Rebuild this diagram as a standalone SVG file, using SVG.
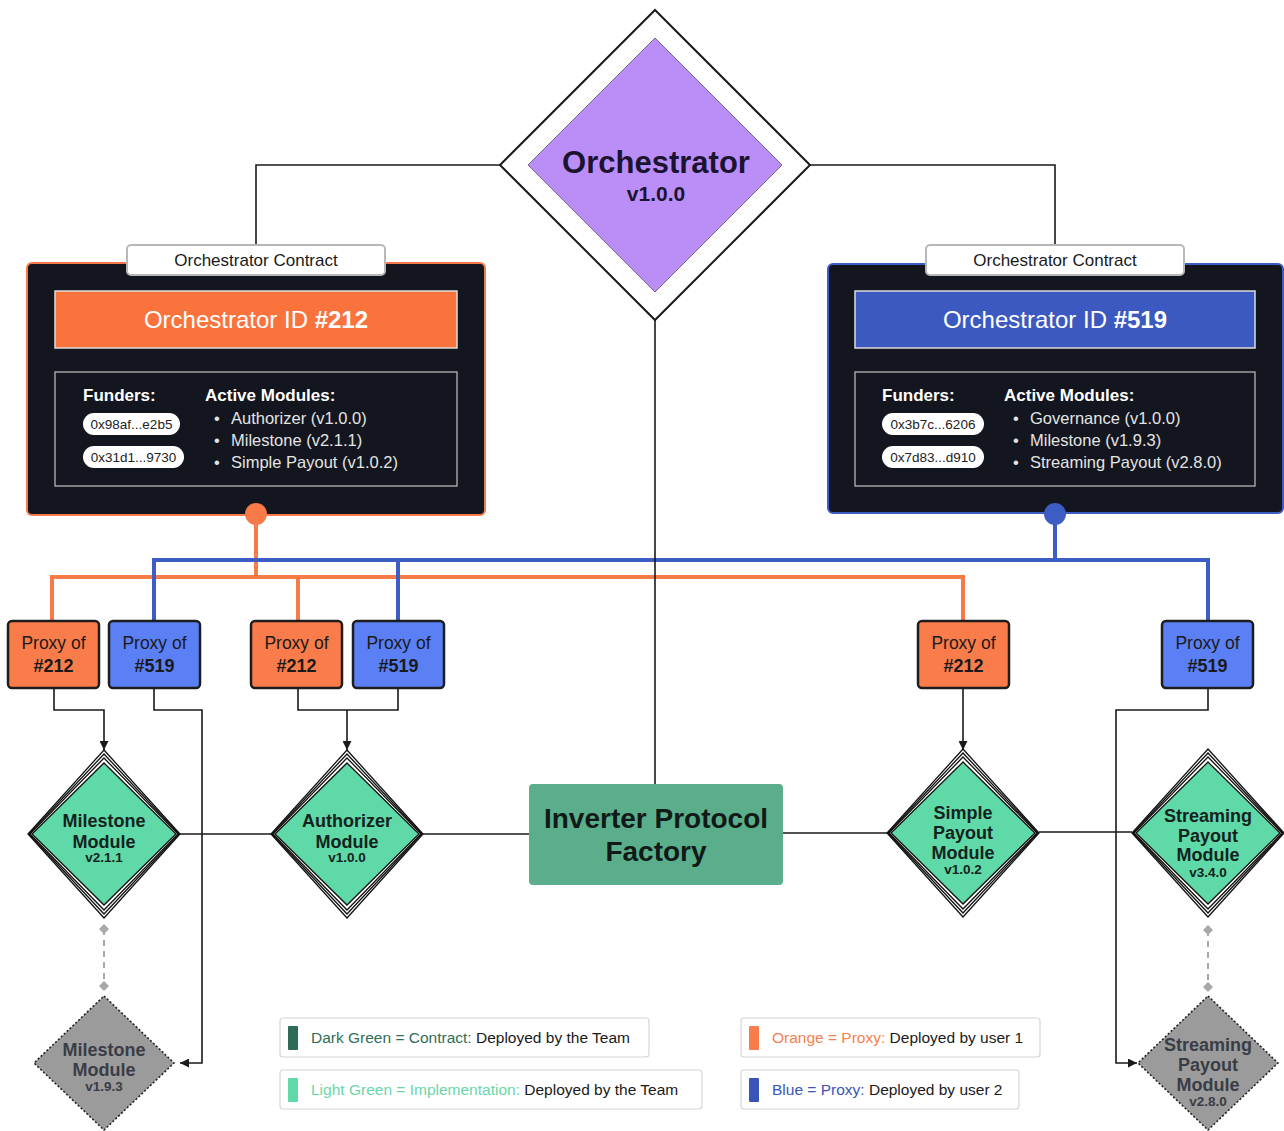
<svg xmlns="http://www.w3.org/2000/svg" xmlns:xlink="http://www.w3.org/1999/xlink" width="1284" height="1131" viewBox="0 0 1284 1131">
<style>
.t{font-family:"Liberation Sans",Arial,sans-serif}
.conn{fill:none;stroke:#1a1a1a;stroke-width:1.6}
.or{fill:none;stroke:#f87a48;stroke-width:4}
.bl{fill:none;stroke:#3d5cc4;stroke-width:4}
.proxyO{fill:#f97c4a;stroke:#1d1d1d;stroke-width:2.5}
.proxyB{fill:#5b7ff5;stroke:#1d1d1d;stroke-width:2.5}
.ptxt{font-family:"Liberation Sans",Arial,sans-serif;font-size:17.5px;fill:#1a1a1a;text-anchor:middle}
.pnum{font-weight:bold;font-size:18px}
.mtxt{font-family:"Liberation Sans",Arial,sans-serif;font-weight:bold;font-size:18px;fill:#14231d;text-anchor:middle}
.gtxt{font-family:"Liberation Sans",Arial,sans-serif;font-weight:bold;font-size:18px;fill:#3a3d45;text-anchor:middle}
.mtxt.mver,.gtxt.mver{font-size:13.5px}
.card{fill:#13161e}
.lbl{fill:#fff;stroke:#b8b8b8;stroke-width:2}
.inner{fill:none;stroke:#b5b5b5;stroke-width:1.3}
.wt{font-family:"Liberation Sans",Arial,sans-serif;fill:#fff}
.li{font-family:"Liberation Sans",Arial,sans-serif;font-size:16.5px;fill:#e4e4e4}
.pill{fill:#fff}
.pt{font-family:"Liberation Sans",Arial,sans-serif;font-size:13.5px;fill:#222;text-anchor:middle}
.leg{fill:#fff;stroke:#d6d6d6;stroke-width:1.2}
.lt{font-family:"Liberation Sans",Arial,sans-serif;font-size:15.5px;fill:#1a1a1a}
.dash{fill:none;stroke:#a8a8a8;stroke-width:2;stroke-dasharray:6 5}
</style>
<defs>
<marker id="arr" viewBox="0 0 10 10" refX="10" refY="5" markerWidth="9" markerHeight="9" markerUnits="userSpaceOnUse" orient="auto">
<path d="M0,0 L10,5 L0,10 Z" fill="#1a1a1a"/>
</marker>
<g id="stack">
<path d="M0,-84 L76,0 L0,84 L-76,0 Z" fill="#fff" stroke="#111" stroke-width="1.3"/>
<path d="M0,-80 L75,0 L0,80 L-75,0 Z" fill="#fff" stroke="#111" stroke-width="1.3"/>
<path d="M0,-76 L74,0 L0,76 L-74,0 Z" fill="#fff" stroke="#111" stroke-width="1.3"/>
<path d="M0,-71 L72,0 L0,71 L-72,0 Z" fill="#5fd9a7" stroke="#111" stroke-width="1.3"/>
</g>
<g id="gray">
<path d="M0,-67 L70,0 L0,67 L-70,0 Z" fill="#9b9b9b" stroke="#222" stroke-width="1.6" stroke-dasharray="2 2"/>
</g>
<path id="mini" d="M0,-5 L5,0 L0,5 L-5,0 Z" fill="#a8a8a8"/>
</defs>
<rect width="1284" height="1131" fill="#fff"/>

<g id="connectors">
<path class="or" d="M256,514 V577 M52,621 V577 H963 V621 M298,577 V621"/>
<path class="bl" d="M1055,514 V560 M154,621 V560 H1208 V621 M398,560 V621"/>
<path class="conn" d="M500,165 H256 V245"/>
<path class="conn" d="M810,165 H1055 V245"/>
<path class="conn" d="M655,320 V784"/>
<path class="conn" d="M54,688 V710 H104 V750" marker-end="url(#arr)"/>
<path class="conn" d="M154,688 V710 H202 V1063 H180" marker-end="url(#arr)"/>
<path class="conn" d="M298,688 V710 H398 V688 M347,710 V750" marker-end="url(#arr)"/>
<path class="conn" d="M963,688 V750" marker-end="url(#arr)"/>
<path class="conn" d="M1208,688 V710 H1116 V1063 H1137" marker-end="url(#arr)"/>
<path class="conn" d="M180,834 H271 M423,834 H529 M783,833 H887 M1039,832 H1132"/>
<path class="dash" d="M104,929 V986 M1208,930 V987"/>
<use xlink:href="#mini" x="104" y="929"/>
<use xlink:href="#mini" x="104" y="986"/>
<use xlink:href="#mini" x="1208" y="930"/>
<use xlink:href="#mini" x="1208" y="987"/>
</g>

<g id="orchestrator">
<path d="M655,10 L810,165 L655,320 L500,165 Z" fill="#fff" stroke="#1a1a1a" stroke-width="2"/>
<path d="M655,38 L782,165 L655,292 L528,165 Z" fill="#bb8ef7" stroke="#5a4a7a" stroke-width="0.8"/>
<text class="t" x="656" y="173" font-size="31" font-weight="bold" fill="#1b1430" text-anchor="middle">Orchestrator</text>
<text class="t" x="656" y="201" font-size="21" font-weight="bold" fill="#1b1430" text-anchor="middle">v1.0.0</text>
</g>

<g id="orch212">
<rect class="card" x="27" y="263" width="458" height="252" rx="5" stroke="#f87a48" stroke-width="2"/>
<rect class="lbl" x="127" y="245" width="258" height="30" rx="4"/>
<text class="t" x="256" y="266" font-size="17" fill="#1a1a1a" text-anchor="middle">Orchestrator Contract</text>
<rect x="55" y="291" width="402" height="57" fill="#fa733c" stroke="#dcdcdc" stroke-width="1.5"/>
<text class="wt" x="256" y="328" font-size="24" text-anchor="middle">Orchestrator ID <tspan font-weight="bold">#212</tspan></text>
<rect class="inner" x="55" y="372" width="402" height="114"/>
<text class="wt" x="83" y="401" font-size="17" font-weight="bold">Funders:</text>
<text class="wt" x="205" y="401" font-size="17" font-weight="bold">Active Modules:</text>
<rect class="pill" x="83" y="413" width="97" height="22" rx="11"/>
<text class="pt" x="131.5" y="429">0x98af...e2b5</text>
<rect class="pill" x="83" y="446" width="101" height="22" rx="11"/>
<text class="pt" x="133.5" y="462">0x31d1...9730</text>
<text class="li" x="214" y="424">•</text><text class="li" x="231" y="424">Authorizer (v1.0.0)</text>
<text class="li" x="214" y="446">•</text><text class="li" x="231" y="446">Milestone (v2.1.1)</text>
<text class="li" x="214" y="468">•</text><text class="li" x="231" y="468">Simple Payout (v1.0.2)</text>
<circle cx="256" cy="514" r="11" fill="#f87a48"/>
</g>

<g id="orch519">
<rect class="card" x="828" y="264" width="455" height="249" rx="5" stroke="#3d5cc4" stroke-width="2"/>
<rect class="lbl" x="926" y="245" width="258" height="30" rx="4"/>
<text class="t" x="1055" y="266" font-size="17" fill="#1a1a1a" text-anchor="middle">Orchestrator Contract</text>
<rect x="855" y="291" width="400" height="57" fill="#3c59c1" stroke="#dcdcdc" stroke-width="1.5"/>
<text class="wt" x="1055" y="328" font-size="24" text-anchor="middle">Orchestrator ID <tspan font-weight="bold">#519</tspan></text>
<rect class="inner" x="855" y="372" width="400" height="114"/>
<text class="wt" x="882" y="401" font-size="17" font-weight="bold">Funders:</text>
<text class="wt" x="1004" y="401" font-size="17" font-weight="bold">Active Modules:</text>
<rect class="pill" x="882" y="413" width="102" height="22" rx="11"/>
<text class="pt" x="933" y="429">0x3b7c...6206</text>
<rect class="pill" x="882" y="446" width="102" height="22" rx="11"/>
<text class="pt" x="933" y="462">0x7d83...d910</text>
<text class="li" x="1013" y="424">•</text><text class="li" x="1030" y="424">Governance (v1.0.0)</text>
<text class="li" x="1013" y="446">•</text><text class="li" x="1030" y="446">Milestone (v1.9.3)</text>
<text class="li" x="1013" y="468">•</text><text class="li" x="1030" y="468">Streaming Payout (v2.8.0)</text>
<circle cx="1055" cy="514" r="11" fill="#3d5cc4"/>
</g>

<g id="proxy1"><rect class="proxyO" x="8" y="621" width="91" height="67" rx="4"/><text class="ptxt" x="53.5" y="649">Proxy of</text><text class="ptxt pnum" x="53.5" y="672">#212</text></g>
<g id="proxy2"><rect class="proxyB" x="109" y="621" width="91" height="67" rx="4"/><text class="ptxt" x="154.5" y="649">Proxy of</text><text class="ptxt pnum" x="154.5" y="672">#519</text></g>
<g id="proxy3"><rect class="proxyO" x="251" y="621" width="91" height="67" rx="4"/><text class="ptxt" x="296.5" y="649">Proxy of</text><text class="ptxt pnum" x="296.5" y="672">#212</text></g>
<g id="proxy4"><rect class="proxyB" x="353" y="621" width="91" height="67" rx="4"/><text class="ptxt" x="398.5" y="649">Proxy of</text><text class="ptxt pnum" x="398.5" y="672">#519</text></g>
<g id="proxy5"><rect class="proxyO" x="918" y="621" width="91" height="67" rx="4"/><text class="ptxt" x="963.5" y="649">Proxy of</text><text class="ptxt pnum" x="963.5" y="672">#212</text></g>
<g id="proxy6"><rect class="proxyB" x="1162" y="621" width="91" height="67" rx="4"/><text class="ptxt" x="1207.5" y="649">Proxy of</text><text class="ptxt pnum" x="1207.5" y="672">#519</text></g>

<g id="milestone">
<use xlink:href="#stack" x="104" y="834"/>
<text class="mtxt" x="104" y="827">Milestone</text>
<text class="mtxt" x="104" y="848">Module</text>
<text class="mtxt mver" x="104" y="862">v2.1.1</text>
</g>
<g id="authorizer">
<use xlink:href="#stack" x="347" y="834"/>
<text class="mtxt" x="347" y="827">Authorizer</text>
<text class="mtxt" x="347" y="848">Module</text>
<text class="mtxt mver" x="347" y="862">v1.0.0</text>
</g>
<g id="simplepayout">
<use xlink:href="#stack" x="963" y="833"/>
<text class="mtxt" x="963" y="819">Simple</text>
<text class="mtxt" x="963" y="839">Payout</text>
<text class="mtxt" x="963" y="859">Module</text>
<text class="mtxt mver" x="963" y="874">v1.0.2</text>
</g>
<g id="streaming">
<use xlink:href="#stack" x="1208" y="833"/>
<text class="mtxt" x="1208" y="822">Streaming</text>
<text class="mtxt" x="1208" y="842">Payout</text>
<text class="mtxt" x="1208" y="861">Module</text>
<text class="mtxt mver" x="1208" y="877">v3.4.0</text>
</g>

<g id="factory">
<rect x="529" y="784" width="254" height="101" rx="4" fill="#5aae8c"/>
<text class="t" x="656" y="828" font-size="28" font-weight="bold" fill="#111a16" text-anchor="middle">Inverter Protocol</text>
<text class="t" x="656" y="861" font-size="28" font-weight="bold" fill="#111a16" text-anchor="middle">Factory</text>
</g>

<g id="milestoneOld">
<use xlink:href="#gray" x="104" y="1063"/>
<text class="gtxt" x="104" y="1056">Milestone</text>
<text class="gtxt" x="104" y="1076">Module</text>
<text class="gtxt mver" x="104" y="1091">v1.9.3</text>
</g>
<g id="streamingOld">
<use xlink:href="#gray" x="1208" y="1063"/>
<text class="gtxt" x="1208" y="1051">Streaming</text>
<text class="gtxt" x="1208" y="1071">Payout</text>
<text class="gtxt" x="1208" y="1091">Module</text>
<text class="gtxt mver" x="1208" y="1106">v2.8.0</text>
</g>

<g id="legend">
<rect class="leg" x="280" y="1018" width="369" height="39" rx="3"/>
<rect x="288" y="1026" width="10" height="24" rx="1" fill="#2e6b55"/>
<text class="lt" x="311" y="1043"><tspan fill="#2f6e58">Dark Green = Contract:</tspan> Deployed by the Team</text>
<rect class="leg" x="280" y="1070" width="422" height="39" rx="3"/>
<rect x="288" y="1078" width="10" height="24" rx="1" fill="#5fd9a7"/>
<text class="lt" x="311" y="1095"><tspan fill="#6ad7aa">Light Green = Implementation:</tspan> Deployed by the Team</text>
<rect class="leg" x="741" y="1018" width="299" height="39" rx="3"/>
<rect x="749" y="1026" width="10" height="24" rx="1" fill="#f97c4a"/>
<text class="lt" x="772" y="1043"><tspan fill="#f57f4e">Orange = Proxy:</tspan> Deployed by user 1</text>
<rect class="leg" x="741" y="1070" width="278" height="39" rx="3"/>
<rect x="749" y="1078" width="10" height="24" rx="1" fill="#3a55b8"/>
<text class="lt" x="772" y="1095"><tspan fill="#3a55b5">Blue = Proxy:</tspan> Deployed by user 2</text>
</g>
</svg>
